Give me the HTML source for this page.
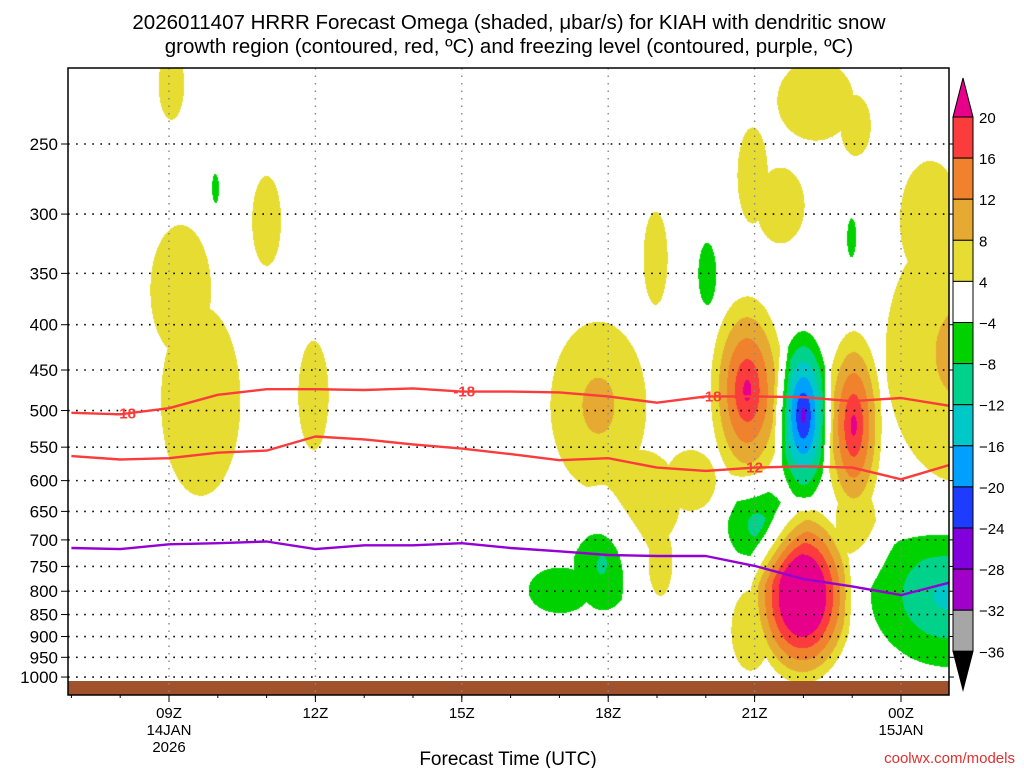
<!DOCTYPE html>
<html><head><meta charset="utf-8"><style>
body{margin:0;background:#fff;width:1024px;height:768px;overflow:hidden;font-family:"Liberation Sans",sans-serif}
#wrap{position:relative;width:1024px;height:768px}
canvas{position:absolute;left:0;top:0}
svg{position:absolute;left:0;top:0}
</style></head><body>
<div id="wrap">
<canvas id="cv" width="1024" height="768"></canvas>
<svg id="sv" width="1024" height="768"></svg>
</div>
<script>
// ---- data ----
const pressureTicks=[250,300,350,400,450,500,550,600,650,700,750,800,850,900,950,1000];
const timeTicks=[9,12,15,18,21,24];
const timeLabels=["09Z","12Z","15Z","18Z","21Z","00Z"];
const dateLabels=["14JAN","","","","","15JAN"];
const yearLabels=["2026","","","","",""];
const hours=[7,8,9,10,11,12,13,14,15,16,17,18,19,20,21,22,23,24,25];
const dgzTop=[503,505,497,480,473,473,474,472,476,476,477,482,490,482,482,483,488,484,494];
const dgzBottom=[563,568,566,558,555,535,539,546,552,560,569,566,580,585,580,578,580,598,576];
const freezingLevel=[715,717,708,706,703,717,710,710,706,715,721,728,730,730,749,775,790,808,782];
// omega features: centre time (h), centre pressure (hPa), time radius (h), log-p radius, peak (ubar/s)
const blobT=[9.04,9.23,9.64,10.99,11.95,9.94,18.96,20.02,22.98,22.24,23.06,20.95,21.52,25.21,24.59,17.79,18.65,19.06,19.68,20.84,21.99,21.05,23.02,23.06,21.97,20.91,17.89,17.00,24.98];
const blobP=[214,365,487,305,480,282,336,350,319,223,238,271,293,430,305,493,631,738,599,474,506,673,519,665,808,885,738,797,808];
const blobRT=[0.53,1.26,1.65,0.60,0.63,0.16,0.50,0.37,0.19,1.59,0.63,0.63,1.00,2.56,1.26,1.64,1.65,0.50,1.04,0.92,0.64,1.02,0.70,0.83,1.19,0.80,0.95,1.30,2.25];
const blobRP=[0.185,0.342,0.50,0.237,0.287,0.089,0.245,0.164,0.105,0.211,0.160,0.253,0.200,0.56,0.316,0.364,0.266,0.185,0.160,0.299,0.260,0.156,0.299,0.185,0.260,0.211,0.203,0.120,0.260];
const blobA=[7.9,7.9,7.9,7.9,7.9,-7.9,7.9,-7.9,-7.9,7.9,7.9,7.9,7.9,10,7.9,10,7.9,7.9,7.9,22,-26,-10,22,7.9,34,7.9,-11,-7.9,-14];
const cbLevels=[20,16,12,8,4,-4,-8,-12,-16,-20,-24,-28,-32,-36];
const cbColors=["#fa3c3c","#f0822d","#e6aa32","#e6dc32","#ffffff","#00d200","#00d28c","#00c8c8","#00a0ff","#1e3cff","#8200dc","#a000c8","#a6a6a6"];

// ---- axes ----
const X0=68,X1=949,Y0=68,Y1=695;
const xS=t=>169+(t-9)*48.8;
const yS=p=>144+(Math.log(p)-Math.log(250))*384.5;
const tInv=x=>9+(x-169)/48.8;
const lpInv=y=>Math.log(250)+(y-144)/384.5;

function colorFor(v){
 if(v>=20) return [230,0,138];
 if(v>=16) return [250,60,60];
 if(v>=12) return [240,130,45];
 if(v>=8) return [230,170,50];
 if(v>=4) return [230,220,50];
 if(v>-4) return null;
 if(v>-8) return [0,210,0];
 if(v>-12) return [0,210,140];
 if(v>-16) return [0,200,200];
 if(v>-20) return [0,160,255];
 if(v>-24) return [30,60,255];
 if(v>-28) return [130,0,220];
 return [160,0,200];
}
const cv=document.getElementById('cv');const ctx=cv.getContext('2d');
ctx.fillStyle='#fff';ctx.fillRect(0,0,1024,768);
const img=ctx.getImageData(X0,Y0,X1-X0,Y1-Y0);
const lpc=blobP.map(p=>Math.log(p));
for(let py=0;py<Y1-Y0;py++){
 const lp=lpInv(Y0+py);
 for(let px=0;px<X1-X0;px++){
  const t=tInv(X0+px);let pos=0,neg=0;
  for(let i=0;i<blobA.length;i++){
   const dx=(t-blobT[i])/blobRT[i],dy=(lp-lpc[i])/blobRP[i];
   const r2=dx*dx+dy*dy;
   if(r2<1){const v=blobA[i]*(1-Math.sqrt(r2));if(v>pos)pos=v;if(v<neg)neg=v;}
  }
  const c=colorFor(pos+neg);if(c){const k=(py*(X1-X0)+px)*4;img.data[k]=c[0];img.data[k+1]=c[1];img.data[k+2]=c[2];img.data[k+3]=255;}
 }
}
ctx.putImageData(img,X0,Y0);

const NS='http://www.w3.org/2000/svg';const sv=document.getElementById('sv');
function mk(tag,attrs,parent){const e=document.createElementNS(NS,tag);for(const k in attrs)e.setAttribute(k,attrs[k]);(parent||sv).appendChild(e);return e;}
function txt(x,y,s,attrs,parent){const e=mk('text',Object.assign({x:x,y:y,'font-family':'Liberation Sans, sans-serif'},attrs),parent);e.textContent=s;return e;}

// ground
const g=mk('rect',{x:X0,y:681,width:X1-X0,height:Y1-681,fill:'#a0522d'});


// grid
pressureTicks.forEach(p=>{
 const y=yS(p);
 const l=mk('line',{x1:X0,x2:X1,y1:y,y2:y,stroke:'#000','stroke-width':1.6,'stroke-dasharray':'1.6 6.5'});
 
 
 mk('line',{x1:X0-7,x2:X0,y1:y,y2:y,stroke:'#000','stroke-width':1});
 mk('line',{x1:X1,x2:X1+5,y1:y,y2:y,stroke:'#000','stroke-width':1});
 const tl=txt(X0-10,y+6,String(p),{'font-size':17,'text-anchor':'end',fill:'#000'});
 
 
});
timeTicks.forEach((t,i)=>{
 const x=xS(t);
 const l=mk('line',{x1:x,x2:x,y1:Y0,y2:Y1,stroke:'#888','stroke-width':1.4,'stroke-dasharray':'1.5 6'});
 
 
 mk('line',{x1:x,x2:x,y1:Y1,y2:Y1+7,stroke:'#000'});
 const a=txt(x,718,timeLabels[i],{'font-size':15,'text-anchor':'middle'});
 
 
 if(dateLabels[i]){const b=txt(x,735,dateLabels[i],{'font-size':15,'text-anchor':'middle'});
  
  }
 if(yearLabels[i]){const c=txt(x,752,yearLabels[i],{'font-size':15,'text-anchor':'middle'});
  
  }
});
for(let t=7;t<=24;t++){const x=xS(t);if(x>X0&&x<X1)mk('line',{x1:x,x2:x,y1:Y1,y2:Y1+3,stroke:'#000'});}
// contour lines
function line(arr,color,name){
 const d=hours.map((h,i)=>(i?'L':'M')+xS(h).toFixed(1)+' '+yS(arr[i]).toFixed(1)).join(' ');
 const p=mk('path',{d:d,fill:'none',stroke:color,'stroke-width':2.4,'stroke-linejoin':'round'});
 
 
 return p;
}
const clip=mk('clipPath',{id:'pc'});mk('rect',{x:X0,y:Y0,width:X1-X0,height:Y1-Y0},clip);
const lg=mk('g',{'clip-path':'url(#pc)'});
[line(dgzTop,'#fa3c3c','dgz-top-contour'),line(dgzBottom,'#fa3c3c','dgz-bottom-contour'),line(freezingLevel,'#9400d3','freezing-level-contour')].forEach(p=>lg.appendChild(p));
function clabel(t,arr,s){
 const i=Math.floor(t-7),f=t-7-i;const p=arr[i]*(1-f)+arr[i+1]*f;
 const x=xS(t),y=yS(p);
 const e=txt(x,y+5,s,{'font-size':15,'font-weight':'bold','text-anchor':'middle',fill:'#fa3c3c'});
 
 
}
clabel(8.1,dgzTop,'-18');clabel(15.05,dgzTop,'-18');clabel(20.1,dgzTop,'-18');clabel(20.95,dgzBottom,'-12');
// frame
const fr=mk('rect',{x:X0,y:Y0,width:X1-X0,height:Y1-Y0,fill:'none',stroke:'#000','stroke-width':1.5});


// colorbar
const CX=953,CW=20,cbTop=117,cbStep=41.1;
const cb=mk('g',{});


mk('polygon',{points:`${CX},${cbTop} ${CX+CW},${cbTop} ${CX+CW/2},78`,fill:'#e6008a',stroke:'#000'},cb);
cbColors.forEach((c,i)=>{mk('rect',{x:CX,y:cbTop+i*cbStep,width:CW,height:cbStep,fill:c,stroke:'#000','stroke-width':1},cb);});
const cbBot=cbTop+cbColors.length*cbStep;
mk('polygon',{points:`${CX},${cbBot} ${CX+CW},${cbBot} ${CX+CW/2},690`,fill:'#000',stroke:'#000'},cb);
cbLevels.forEach((v,i)=>{
 const e=txt(CX+CW+6,cbTop+i*cbStep+6,(v<0?'\u2212':'')+Math.abs(v),{'font-size':15},cb);
 
 
});
// titles
const t1=txt(509,29,'2026011407 HRRR Forecast Omega (shaded, \u03bcbar/s) for KIAH with dendritic snow',{'font-size':20.5,'text-anchor':'middle'});


const t2=txt(509,53,'growth region (contoured, red, \u00baC) and freezing level (contoured, purple, \u00baC)',{'font-size':20.5,'text-anchor':'middle'});


const xt=txt(508,765,'Forecast Time (UTC)',{'font-size':19,'text-anchor':'middle'});


const cr=txt(1015,763,'coolwx.com/models',{'font-size':15,'text-anchor':'end',fill:'#e03030'});


</script>
</body></html>
